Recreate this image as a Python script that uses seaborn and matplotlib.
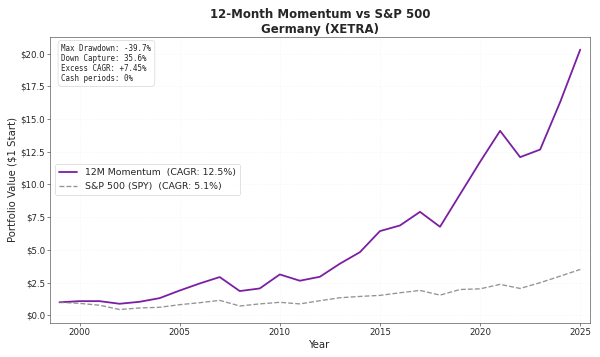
import numpy as np
import pandas as pd
import matplotlib
matplotlib.use("Agg")
import matplotlib.pyplot as plt
import matplotlib.ticker as mticker
import seaborn as sns

# yearly portfolio values
years = list(range(1999, 2026))
momentum = [1.0, 1.09, 1.09, 0.89, 1.04, 1.32, 1.9, 2.44, 2.93, 1.86, 2.06, 3.13, 2.65, 2.95,
            3.95, 4.83, 6.44, 6.87, 7.91, 6.77, 9.25, 11.73, 14.1, 12.09, 12.67, 16.3, 20.3]
spy = [1.0, 0.92, 0.78, 0.45, 0.57, 0.62, 0.82, 0.97, 1.15, 0.72, 0.88, 1.0, 0.88, 1.12,
       1.35, 1.45, 1.53, 1.73, 1.91, 1.55, 1.98, 2.03, 2.37, 2.06, 2.5, 3.0, 3.51]

mom_label = "12M Momentum  (CAGR: 12.5%)"
spy_label = "S&P 500 (SPY)  (CAGR: 5.1%)"
stats = "Max Drawdown: -39.7%\nDown Capture: 35.6%\nExcess CAGR: +7.45%\nCash periods: 0%"

df = pd.DataFrame({"Year": years, "Momentum": momentum, "SPY": spy})

sns.set_style("white")
fig, ax = plt.subplots(figsize=(12, 7.14), dpi=50)

sns.lineplot(data=df, x="Year", y="Momentum", ax=ax, color="#7B1FA2", linewidth=2.6, label=mom_label)
sns.lineplot(data=df, x="Year", y="SPY", ax=ax, color="gray", linewidth=1.9, linestyle="--",
             alpha=0.85, label=spy_label)

ax.set_title("12-Month Momentum vs S&P 500\nGermany (XETRA)", fontsize=17, fontweight="bold")
ax.set_xlabel("Year", fontsize=14.5)
ax.set_ylabel("Portfolio Value ($1 Start)", fontsize=14.5)
ax.yaxis.set_major_formatter(mticker.FormatStrFormatter("$%.1f"))
ax.tick_params(labelsize=12.5, length=4, left=True, bottom=True)
ax.margins(x=0.018)
ax.grid(True, alpha=0.3, linestyle=":")
for s in ax.spines.values():
    s.set_color("#333333")

ax.legend(loc="center left", fontsize=13.5)
ax.text(0.021, 0.975, stats, transform=ax.transAxes, fontsize=10.8, family="monospace",
        va="top", linespacing=1.15,
        bbox=dict(boxstyle="round,pad=0.45", facecolor="white", alpha=0.8, edgecolor="#cccccc"))

plt.tight_layout()
plt.savefig("out.png", dpi=50)
